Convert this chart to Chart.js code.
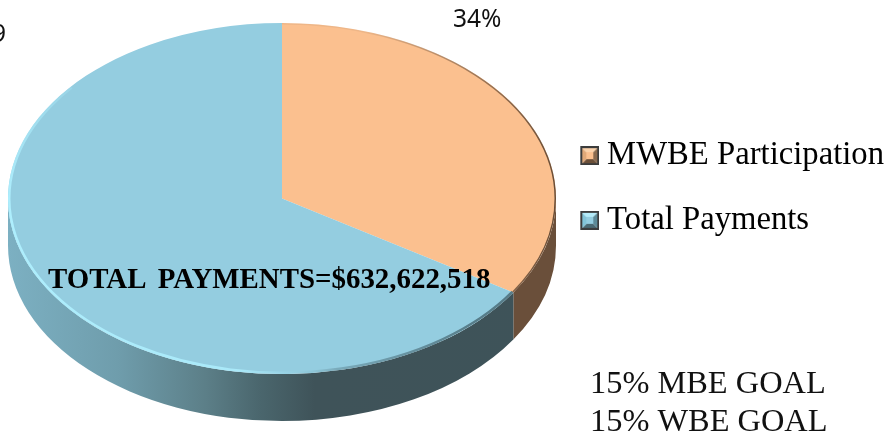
<!DOCTYPE html>
<html>
<head>
<meta charset="utf-8">
<style>html,body{margin:0;padding:0;background:#fff;overflow:hidden}canvas{display:block}</style>
<script src="https://cdn.jsdelivr.net/npm/chart.js@4/dist/chart.umd.min.js"></script>
</head>
<body>
<canvas id="c" width="888" height="437"></canvas>
<script>
const categories = ['MWBE Participation', 'Total Payments'];
const values = [34, 66];
const faceColors = ['#FBC08F', '#94CDE0'];
const iconEdges = [['#6b4f38', '#fcd3ab', '#e0a878', '#8a6a4e'], ['#4a6a74', '#b4ecfa', '#82c4d8', '#5c8a98']];
const percentLabel = '34%';
const clippedLabel = '9';
const totalLabel = 'TOTAL  PAYMENTS=$632,622,518';
const goalLabels = ['15% MBE GOAL', '15% WBE GOAL'];

const PIE = {cx: 282, cy: 198.5, rx: 274, ry: 175.5, depth: 47};
const SERIF = '"Liberation Serif", serif';

function makeIcon(i) {
  const full = 27, s = 19;
  const cv = document.createElement('canvas');
  cv.width = full; cv.height = s;
  const g = cv.getContext('2d');
  const o = full - s;
  const e = iconEdges[i];
  const c = [o + s / 2, s / 2];
  const corners = [[o, 0], [o + s, 0], [o + s, s], [o, s]];
  [[0, 1, 1], [1, 2, 3], [2, 3, 0], [3, 0, 2]].forEach(([a, b, col]) => {
    g.fillStyle = e[col];
    g.beginPath();
    g.moveTo(corners[a][0], corners[a][1]);
    g.lineTo(corners[b][0], corners[b][1]);
    g.lineTo(c[0], c[1]);
    g.closePath();
    g.fill();
  });
  g.fillStyle = faceColors[i];
  g.fillRect(o + 6, 6, s - 12, s - 12);
  g.strokeStyle = '#3c3c3c';
  g.lineWidth = 2;
  g.strokeRect(o + 1, 1, s - 2, s - 2);
  return cv;
}

function wallPath(ctx, a0, a1) {
  const {cx, cy, rx, ry, depth} = PIE;
  ctx.beginPath();
  ctx.ellipse(cx, cy, rx, ry, 0, a0, a1, false);
  ctx.ellipse(cx, cy + depth, rx, ry, 0, a1, a0, true);
  ctx.closePath();
}

const pie3d = {
  id: 'pie3d',
  beforeDatasetsDraw(chart) {
    const ctx = chart.ctx;
    const arcs = chart.getDatasetMeta(0).data;
    const {cx, rx} = PIE;
    arcs.forEach((arc, i) => {
      const a0 = Math.max(arc.startAngle, 0);
      const a1 = Math.min(arc.endAngle, Math.PI);
      if (a1 <= a0) return;
      let fill;
      if (i === 0) {
        fill = '#6a4f3a';
      } else {
        fill = ctx.createLinearGradient(cx - rx, 0, cx + rx, 0);
        fill.addColorStop(0, '#7cb0c2');
        fill.addColorStop(0.2, '#6f9dac');
        fill.addColorStop(0.36, '#5c7f88');
        fill.addColorStop(0.46, '#4a666d');
        fill.addColorStop(0.56, '#3f5359');
        fill.addColorStop(1, '#3e5359');
      }
      ctx.save();
      wallPath(ctx, a0, a1);
      ctx.fillStyle = fill;
      ctx.fill();
      ctx.restore();
    });
    const a = arcs[0];
    ctx.save();
    ctx.translate(PIE.cx, PIE.cy);
    ctx.scale(PIE.rx / a.outerRadius, PIE.ry / a.outerRadius);
    ctx.translate(-a.x, -a.y);
  },
  afterDatasetsDraw(chart) {
    const ctx = chart.ctx;
    ctx.restore();
    const {cx, cy, rx, ry} = PIE;
    const arcs = chart.getDatasetMeta(0).data;
    ctx.save();
    ctx.beginPath();
    ctx.ellipse(cx, cy, rx, ry, 0, 0, Math.PI * 2);
    ctx.clip();
    const blue = ctx.createConicGradient(0, cx, cy);
    blue.addColorStop(0.09, 'rgba(60,90,100,0.7)');
    blue.addColorStop(0.2, 'rgba(60,90,100,0.3)');
    blue.addColorStop(0.245, 'rgba(175,240,255,0.1)');
    blue.addColorStop(0.29, 'rgba(175,240,255,0.8)');
    blue.addColorStop(0.5, 'rgba(175,240,255,0.95)');
    blue.addColorStop(0.6, 'rgba(175,240,255,0)');
    ctx.strokeStyle = blue;
    ctx.lineWidth = 5;
    ctx.beginPath();
    ctx.ellipse(cx, cy, rx, ry, 0, arcs[1].startAngle, Math.PI * 1.22);
    ctx.stroke();
    const brown = ctx.createLinearGradient(cx + rx * 0.3, 0, cx + rx, 0);
    brown.addColorStop(0, 'rgba(90,65,45,0.08)');
    brown.addColorStop(1, 'rgba(90,65,45,0.9)');
    ctx.strokeStyle = brown;
    ctx.lineWidth = 3;
    ctx.beginPath();
    ctx.ellipse(cx, cy, rx, ry, 0, arcs[0].startAngle, arcs[0].endAngle);
    ctx.stroke();
    ctx.restore();
  },
  afterDraw(chart) {
    const ctx = chart.ctx;
    ctx.save();
    ctx.textBaseline = 'alphabetic';
    ctx.textAlign = 'left';
    ctx.fillStyle = '#111';
    ctx.font = '24.5px "Noto Sans"';
    ctx.fillText(percentLabel, 453, 27);
    ctx.fillText(clippedLabel, -8, 42);
    ctx.font = 'bold 28.9px ' + SERIF;
    ctx.fillStyle = '#000';
    ctx.wordSpacing = '-1.6px';
    ctx.fillText(totalLabel, 48, 288);
    ctx.wordSpacing = '0px';
    ctx.font = '32.4px ' + SERIF;
    ctx.fillStyle = '#111';
    ctx.fillText(goalLabels[0], 590, 393);
    ctx.fillText(goalLabels[1], 590, 430.5);
    ctx.restore();
  }
};

new Chart(document.getElementById('c'), {
  type: 'pie',
  data: {
    labels: categories,
    datasets: [{data: values, backgroundColor: faceColors, borderWidth: 0, clip: false}]
  },
  options: {
    responsive: false,
    animation: false,
    layout: {padding: {bottom: 61, right: -6}},
    plugins: {
      tooltip: {enabled: false},
      legend: {
        position: 'right',
        labels: {
          usePointStyle: true,
          boxWidth: 10,
          boxHeight: 10,
          padding: 32,
          color: '#111',
          font: {family: SERIF, size: 32.7, lineHeight: 1.2},
          generateLabels(chart) {
            return categories.map((t, i) => ({text: t, pointStyle: makeIcon(i), index: i, fillStyle: faceColors[i], strokeStyle: faceColors[i], lineWidth: 0, hidden: false}));
          }
        }
      }
    }
  },
  plugins: [pie3d]
});
</script>
</body>
</html>
